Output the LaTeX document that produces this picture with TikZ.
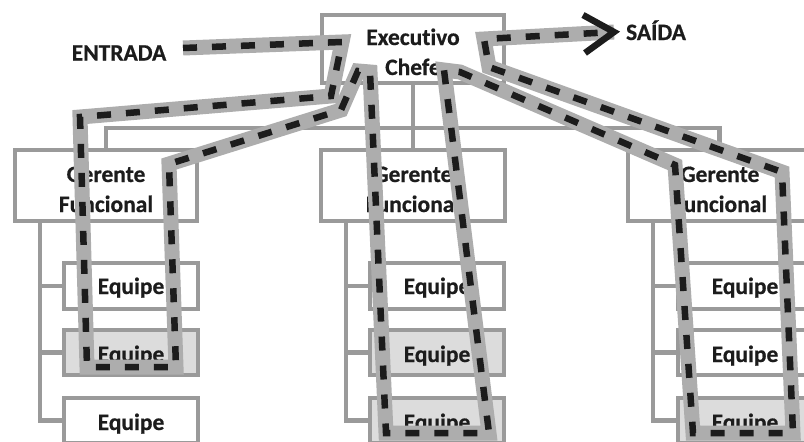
\documentclass[tikz,border=0pt]{standalone}
\usepackage{fontspec}
\setmainfont{Carlito}[Ligatures=NoCommon, BoldFeatures={FakeBold=0.6}]
\usetikzlibrary{calc}

\definecolor{wirecol}{HTML}{9A9A9A}
\definecolor{bandcol}{HTML}{ADADAD}
\definecolor{shade}{HTML}{DCDCDC}
\definecolor{ink}{HTML}{1C1C1C}

\tikzset{
  box/.style={draw=wirecol, line width=4.5pt, fill=white, inner sep=0pt, outer sep=0pt},
  shaded/.style={fill=shade},
  wire/.style={draw=wirecol, line width=4.5pt},
  lbl/.style={anchor=base, inner sep=0pt, text=ink,
    font=\fontsize{23.5}{30}\selectfont\bfseries},
  route/.style={draw=ink, line width=6.5pt, dash pattern=on 14pt off 15pt,
    line join=miter,
    preaction={draw=bandcol, line width=15pt, solid}},
  chevron/.style={draw=ink, line width=6.5pt, line join=miter}
}

\begin{document}
\begin{tikzpicture}[x=1pt, y=-1pt]
\useasboundingbox (0,0) rectangle (804,442);
\clip (0,0) rectangle (804,442);

% --- boxes ---------------------------------------------------------
\node[box, minimum width=182pt, minimum height=68pt] (exec) at (413,49) {};

\node[box, minimum width=182pt, minimum height=71pt] (gerL) at (106,185.5) {};
\node[box, minimum width=184pt, minimum height=71pt] (gerM) at (413,185.5) {};
\node[box, minimum width=183pt, minimum height=71pt] (gerR) at (719.5,185.5) {};

\foreach \col/\cx in {L/131, M/437, R/745}{
  \node[box, minimum width=134pt, minimum height=46pt] (eq\col1) at (\cx,286) {};
}
\node[box, shaded, minimum width=134pt, minimum height=45pt] (eqL2) at (131,352.5) {};
\node[box, minimum width=134pt, minimum height=45pt] (eqL3) at (131,420.5) {};
\node[box, shaded, minimum width=134pt, minimum height=45pt] (eqM2) at (437,352.5) {};
\node[box, shaded, minimum width=134pt, minimum height=45pt] (eqM3) at (437,420.5) {};
\node[box, minimum width=134pt, minimum height=45pt] (eqR2) at (745,352.5) {};
\node[box, shaded, minimum width=134pt, minimum height=45pt] (eqR3) at (745,420.5) {};

% --- organisation lines --------------------------------------------
\coordinate (bus) at (413,128);
\draw[wire] (gerL.north) |- (bus) -| (gerR.north);
\draw[wire] (exec.south) -- (gerM.north);

\foreach \col in {L, M, R}{
  \coordinate (t\col) at ($(ger\col.south west)+(25,0)$);
  \draw[wire] (t\col) |- (eq\col3.west);
  \draw[wire] (t\col |- eq\col1.west) -- (eq\col1.west);
  \draw[wire] (t\col |- eq\col2.west) -- (eq\col2.west);
}

% --- labels --------------------------------------------------------
\node[lbl] (execA) at (413,45) {Executivo};
\node[lbl] (execB) at (413,75) {Chefe};
\foreach \col/\cx in {L/106, M/413, R/720}{
  \node[lbl] (g\col a) at (\cx,182) {Gerente};
  \node[lbl] (g\col b) at (\cx,212) {Funcional};
}
\foreach \col/\cx in {L/131, M/437, R/745}{
  \node[lbl] (e\col a) at (\cx,294) {Equipe};
  \node[lbl] (e\col b) at (\cx,362) {Equipe};
  \node[lbl] (e\col c) at (\cx,430) {Equipe};
}
\node[lbl] (entrada) at (119,60.5) {ENTRADA};
\node[lbl] (saida) at (656,40) {SAÍDA};

% --- process route -------------------------------------------------
\coordinate (in)  at (183,48);
\coordinate (p1)  at (342,42);
\coordinate (p2)  at (331,96);
\coordinate (p3)  at (80,117);
\coordinate (p4)  at (87,367);
\coordinate (p5)  at (176,367);
\coordinate (p6)  at (169,164);
\coordinate (p7)  at (341,110);
\coordinate (p8)  at (358,71);
\coordinate (p9)  at (370,72);
\coordinate (p10) at (386,433);
\coordinate (p11) at (489,433);
\coordinate (p12) at (444,70);
\coordinate (p13) at (460,72);
\coordinate (p14) at (675,165);
\coordinate (p15) at (693,433);
\coordinate (p16) at (793,433);
\coordinate (p17) at (782,172);
\coordinate (p18) at (489,67);
\coordinate (p19) at (484,39);
\coordinate (tip) at (614,32);

\draw[route] (in) -- (p1) -- (p2) -- (p3) -- (p4) -- (p5) -- (p6) -- (p7)
  -- (p8) -- (p9) -- (p10) -- (p11) -- (p12) -- (p13) -- (p14) -- (p15)
  -- (p16) -- (p17) -- (p18) -- (p19) -- (tip);
\draw[chevron] ($(tip)+(-31,-17)$) -- (tip) -- ($(tip)+(-29,21)$);
\end{tikzpicture}
\end{document}
